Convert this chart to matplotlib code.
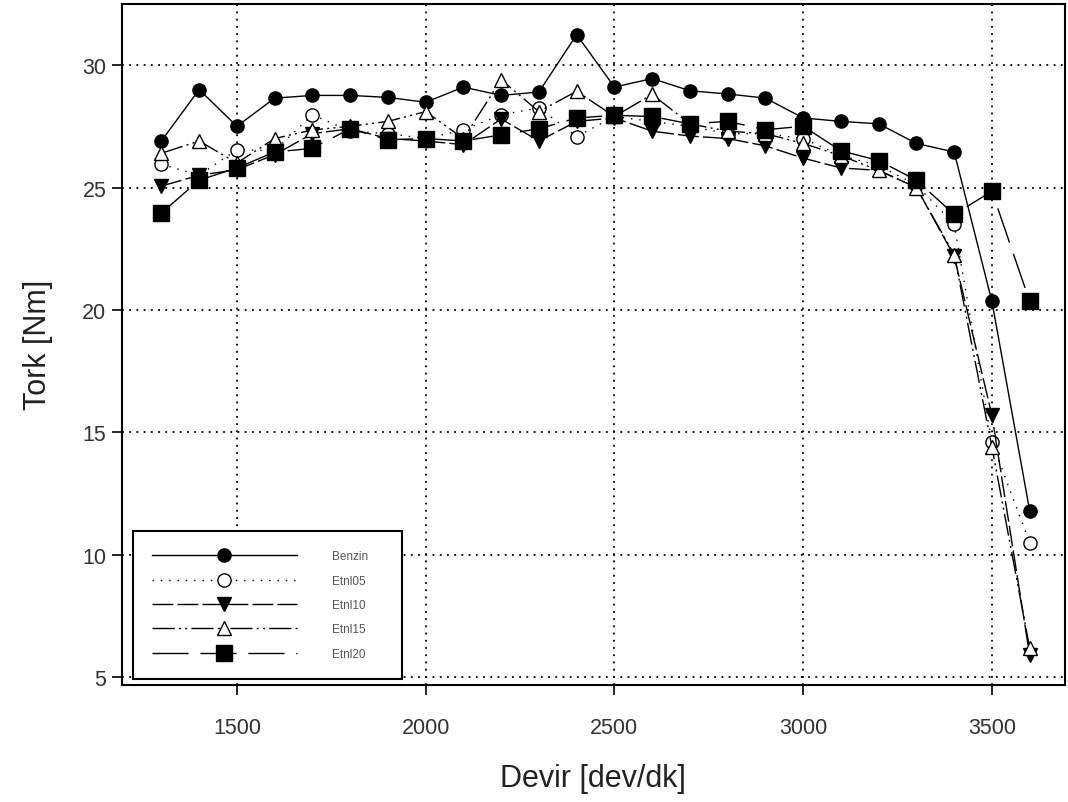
import matplotlib.pyplot as plt

plt.rcParams['font.family'] = ['Liberation Sans', 'DejaVu Sans']

# Devir degerleri
devir = [1300, 1400, 1500, 1600, 1700, 1800, 1900, 2000, 2100, 2200, 2300, 2400,
         2500, 2600, 2700, 2800, 2900, 3000, 3100, 3200, 3300, 3400, 3500, 3600]

# Tork degerleri [Nm]
benzin = [26.9, 29.0, 27.5, 28.65, 28.76, 28.76, 28.68, 28.48, 29.1, 28.76, 28.9, 31.24,
          29.1, 29.45, 28.95, 28.82, 28.65, 27.84, 27.7, 27.6, 26.8, 26.45, 20.35, 11.8]
etnl05 = [25.95, 25.5, 26.55, 26.5, 27.97, 27.3, 27.2, 27.0, 27.35, 27.97, 28.25, 27.08,
          27.9, 27.7, 27.5, 27.2, 27.2, 27.0, 26.3, 25.9, 25.1, 23.5, 14.6, 10.5]
etnl10 = [25.06, 25.5, 25.73, 26.34, 27.2, 27.4, 27.0, 26.9, 26.75, 27.8, 26.9, 27.7,
          27.84, 27.3, 27.1, 27.0, 26.7, 26.2, 25.8, 25.7, 25.0, 22.2, 15.7, 5.9]
etnl15 = [26.4, 26.9, 26.0, 27.0, 27.35, 27.5, 27.7, 28.1, 27.0, 29.4, 28.1, 28.93,
          27.9, 28.8, 27.6, 27.3, 27.2, 26.8, 26.3, 25.7, 25.0, 22.26, 14.4, 6.2]
etnl20 = [23.96, 25.3, 25.8, 26.45, 26.6, 27.4, 26.95, 27.0, 26.9, 27.15, 27.4, 27.84,
          27.95, 27.9, 27.6, 27.7, 27.36, 27.5, 26.5, 26.1, 25.3, 23.9, 24.85, 20.35]

fig = plt.figure(figsize=(10.68, 8.03), dpi=100)
ax = fig.add_axes([0.114, 0.146, 0.883, 0.848])

ax.plot(devir, benzin, color='black', lw=1.0, ls='-', marker='o',
        markersize=9.5, markerfacecolor='black', label='Benzin')
ax.plot(devir, etnl05, color='black', lw=1.0, ls=(0, (1, 5)), marker='o',
        markersize=9.5, markerfacecolor='white', label='Etnl05')
ax.plot(devir, etnl10, color='black', lw=1.0, ls=(0, (15, 3)), marker='v',
        markersize=10, markerfacecolor='black', label='Etnl10')
ax.plot(devir, etnl15, color='black', lw=1.0, ls=(0, (16, 3, 1.5, 3, 1.5, 3)), marker='^',
        markersize=10, markerfacecolor='white', label='Etnl15')
ax.plot(devir, etnl20, color='black', lw=1.0, ls=(0, (26, 8.5)), marker='s',
        markersize=11, markerfacecolor='black', label='Etnl20')

ax.set_xlim(1195, 3693)
ax.set_ylim(4.7, 32.5)
ax.set_xticks([1500, 2000, 2500, 3000, 3500])
ax.set_yticks([5, 10, 15, 20, 25, 30])
ax.grid(True, color='black', ls=(0, (1, 3)), lw=1.3)
ax.tick_params(labelsize=15.5, labelcolor='#333333', direction='out',
               length=7, width=1.2)
ax.tick_params(axis='x', pad=16)
ax.tick_params(axis='y', pad=4)
for s in ax.spines.values():
    s.set_linewidth(1.5)

ax.set_xlabel('Devir [dev/dk]', fontsize=22, color='#222222', labelpad=18)
ax.set_ylabel('Tork [Nm]', fontsize=22, color='#222222', labelpad=21)

leg = ax.legend(loc='lower left', bbox_to_anchor=(0.0117, 0.0088, 0.285, 0.2),
                mode='expand', fontsize=8.5,
                frameon=True, fancybox=False, edgecolor='black', framealpha=1,
                handlelength=12.3, handletextpad=3.0, labelspacing=1.05,
                borderpad=1.6, borderaxespad=0)
leg.get_frame().set_linewidth(1.5)
for t in leg.get_texts():
    t.set_color('#555555')

fig.savefig('out.png')
